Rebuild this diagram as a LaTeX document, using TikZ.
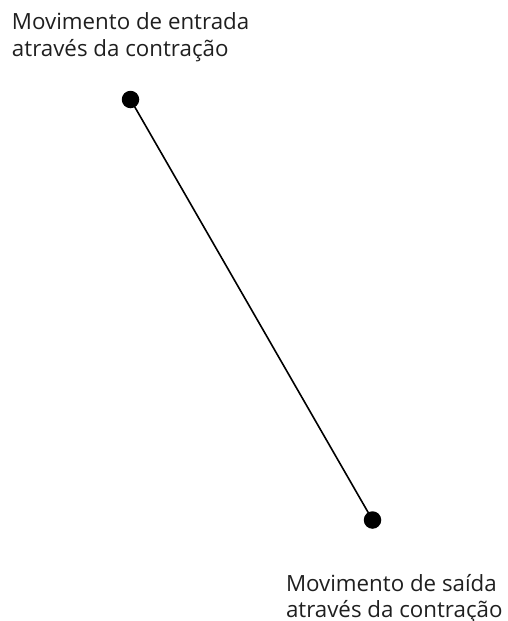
\documentclass[tikz,border=0pt]{standalone}
\usepackage{fontspec}
\setmainfont{Open Sans}
\tikzset{
  lbl/.style={inner sep=0pt, outer sep=0pt, align=left, anchor=north west, font=\fontsize{22.3}{26.5}\selectfont, text=black!88},
  dot/.style={circle, fill=black, inner sep=0pt, minimum size=17.5pt},
  conn/.style={line width=1.6pt, black}
}
\begin{document}
\begin{tikzpicture}[x=1pt,y=1pt]
\useasboundingbox (0,0) rectangle (508,-621);
\node[lbl] (top) at (12,-13) {Movimento de entrada\\através da contração};
\node[dot] (a) at (130.5,-99.5) {};
\node[dot] (b) at (372.5,-520) {};
\draw[conn] (a.center) -- (b.center);
\node[lbl] (bot) at (286,-574) {Movimento de saída\\através da contração};
\end{tikzpicture}
\end{document}
